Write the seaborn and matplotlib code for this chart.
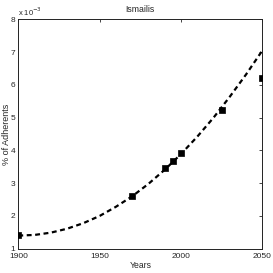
import matplotlib
matplotlib.use("Agg")
import matplotlib.pyplot as plt
import seaborn as sns
import pandas as pd

# observed data (x 10^-3)
years = [1900, 1970, 1990, 1995, 2000, 2025, 2050]
adherents = [1.42, 2.61, 3.45, 3.67, 3.92, 5.23, 6.20]

# fitted trend curve (x 10^-3)
curve_years = [1900, 1910, 1920, 1930, 1940, 1950, 1960, 1970, 1980, 1990,
               2000, 2010, 2020, 2030, 2040, 2050]
curve_vals = [1.40, 1.42, 1.49, 1.61, 1.78, 2.00, 2.28, 2.60, 2.98, 3.41,
              3.89, 4.42, 5.00, 5.64, 6.32, 7.05]

xticks = [1900, 1950, 2000, 2050]
yticks = [1, 2, 3, 4, 5, 6, 7, 8]

sns.set_style("white")
plt.rcParams['font.family'] = ['Liberation Sans', 'DejaVu Sans']

fig = plt.figure(figsize=(2.73, 2.73), dpi=100)
ax = fig.add_axes([0.067, 0.089, 0.894, 0.84])

df_curve = pd.DataFrame({"Years": curve_years, "v": curve_vals})
df_pts = pd.DataFrame({"Years": years, "v": adherents})

sns.lineplot(data=df_curve, x="Years", y="v", ax=ax, color="black",
             linewidth=1.6, linestyle=(0, (2.2, 1.6)))
sns.scatterplot(data=df_pts, x="Years", y="v", ax=ax, marker="s", s=18,
                color="black", edgecolor="black", linewidth=0.5, zorder=3)

ax.set_xlim(1900, 2050)
ax.set_ylim(1, 8)
ax.set_xticks(xticks)
ax.set_yticks(yticks)
ax.tick_params(direction="in", length=2.5, width=0.6, labelsize=6,
               top=True, right=True)
ax.tick_params(axis="x", pad=3)
ax.tick_params(axis="y", pad=2)
for s in ax.spines.values():
    s.set_linewidth(0.7)
    s.set_color("#222222")
ax.set_xlabel("Years", fontsize=6.2, labelpad=1)
ax.set_ylabel("% of Adherents", fontsize=6.5)
ax.yaxis.set_label_coords(-0.03, 0.5)
ax.set_title("Ismailis", fontsize=6.3, pad=5)
ax.text(0.0, 1.008, "x 10$^{-3}$", transform=ax.transAxes, fontsize=5.5,
        ha="left", va="bottom")

fig.savefig("out.png", dpi=100)
